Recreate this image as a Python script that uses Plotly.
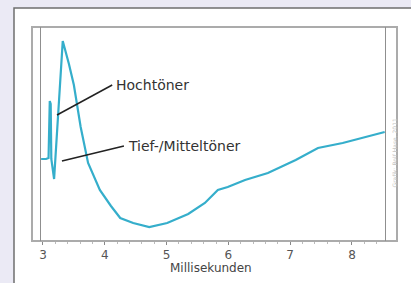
import plotly.graph_objects as go

# Impulse / step response trace (milliseconds, relative amplitude)
time_ms = [2.97, 3.05, 3.09, 3.11, 3.125, 3.135, 3.18, 3.25, 3.32, 3.42, 3.50, 3.61, 3.73,
           3.92, 4.10, 4.25, 4.46, 4.72, 5.01, 5.35, 5.62, 5.83, 5.99, 6.27, 6.64,
           7.09, 7.45, 7.85, 8.21, 8.53]
amplitude = [0.00, 0.00, 0.01, 0.58, 0.55, 0.00, -0.20, 0.55, 1.18, 0.95, 0.74, 0.32, -0.04,
             -0.31, -0.47, -0.59, -0.64, -0.68, -0.64, -0.55, -0.44, -0.31, -0.28, -0.21, -0.14,
             -0.01, 0.11, 0.16, 0.22, 0.27]

tick_vals = [3, 4, 5, 6, 7, 8]
tick_text = ["3", "4", "5", "6", "7", "8"]

labels = ["Hochtöner", "Tief-/Mitteltöner"]
label_x = [4.15, 4.34]
label_y = [0.74, 0.13]
leader_from_x = [3.227, 3.307]
leader_from_y = [0.44, -0.02]

x_title = "Millisekunden"
credit = "Grafik: Rolf Hase, 2011"

BG = "#ebeaf5"

fig = go.Figure()
fig.add_trace(go.Scatter(x=time_ms, y=amplitude, mode="lines",
                         line=dict(color="#35aecb", width=2.2),
                         hoverinfo="skip"))

W, H = 411, 283
L, R, T, B = 41, 26, 27, 42
pw, ph = W - L - R, H - T - B

def px(x):
    return (x - L) / pw

def py(y):
    return (H - B - y) / ph

shapes = [
    # white card
    dict(type="rect", xref="paper", yref="paper", x0=px(14), x1=px(420), y0=py(290), y1=py(8),
         fillcolor="white", line=dict(color="#6f6f6f", width=1.5), layer="below"),
    # outer frame
    dict(type="rect", xref="paper", yref="paper", x0=px(32), x1=px(397), y0=py(241), y1=py(27),
         fillcolor="rgba(0,0,0,0)", line=dict(color="#ababab", width=2), layer="below"),
]
annotations = []
for i, t in enumerate(labels):
    shapes.append(dict(type="line", xref="x", yref="y", x0=leader_from_x[i], y0=leader_from_y[i],
                       x1=label_x[i] - 0.03, y1=label_y[i], line=dict(color="#222", width=1.5)))
    annotations.append(dict(x=label_x[i], y=label_y[i], xref="x", yref="y", text=t,
                            showarrow=False, xanchor="left", yanchor="middle",
                            font=dict(family="DejaVu Sans", size=14, color="#333")))
annotations.append(dict(x=px(399), y=py(190), xref="paper", yref="paper", text=credit,
                        showarrow=False, textangle=-90, font=dict(family="DejaVu Sans", size=6, color="#c4c4c4")))
annotations.append(dict(x=px(211), y=py(268), xref="paper", yref="paper", text=x_title,
                        showarrow=False, xanchor="center", yanchor="middle",
                        font=dict(family="DejaVu Sans", size=12, color="#444")))

fig.update_layout(
    width=W, height=H, margin=dict(l=L, r=R, t=T, b=B),
    paper_bgcolor=BG, plot_bgcolor="white", showlegend=False,
    shapes=shapes, annotations=annotations,
    xaxis=dict(range=[2.968, 8.535], tickvals=tick_vals, ticktext=tick_text,
               ticks="outside", ticklen=3, tickcolor="#888", showgrid=False, zeroline=False,
               showline=False, tickfont=dict(family="DejaVu Sans", size=12, color="#555"),
               minor=dict(dtick=0.2, ticks="outside", ticklen=2, tickcolor="#bbb", showgrid=False)),
    yaxis=dict(range=[-0.82, 1.32], showticklabels=False, ticks="", showgrid=False, zeroline=False,
               showline=True, mirror=True, linecolor="#8f8f8f", linewidth=1.2),
)

fig.write_html("out.html", config={"displayModeBar": False},
               post_script="document.body.style.margin='0px';document.body.style.background='" + BG + "';")
